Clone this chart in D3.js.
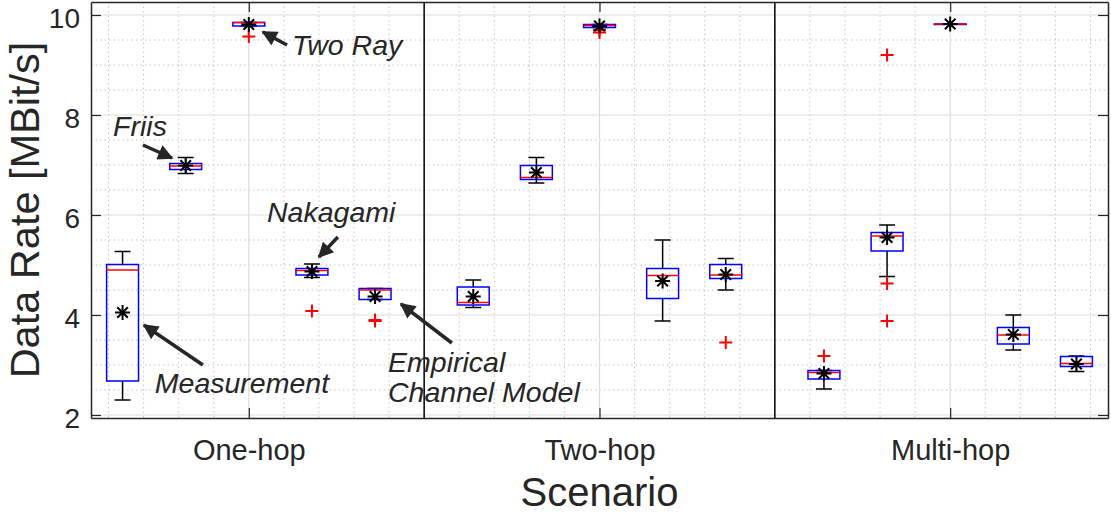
<!DOCTYPE html>
<html>
<head>
<meta charset="utf-8">
<script src="https://d3js.org/d3.v7.min.js"></script>
<style>
  body { margin: 0; background: #fff; }
  text { font-family: "Liberation Sans", Arial, Helvetica, sans-serif; fill: #262626; }
</style>
</head>
<body>
<script>

// scenarios and the five channel models inside each
let scenarios = ["One-hop", "Two-hop", "Multi-hop"];
let models = ["Measurement", "Friis", "Two Ray", "Nakagami", "Empirical Channel Model"];

// box statistics, one row per scenario, one column per model
let whiskerLow = [[2.30, 6.83, 9.78, 4.75, 4.31],
                  [4.15, 6.64, 9.75, 3.88, 4.50],
                  [2.52, 4.77, 9.82, 3.30, 2.87]];
let q1 =         [[2.68, 6.91, 9.78, 4.80, 4.31],
                  [4.20, 6.71, 9.75, 4.33, 4.73],
                  [2.72, 5.28, 9.82, 3.42, 2.97]];
let median =     [[4.90, 6.98, 9.85, 4.89, 4.50],
                  [4.25, 6.75, 9.79, 4.79, 4.80],
                  [2.85, 5.58, 9.82, 3.60, 3.03]];
let q3 =         [[5.01, 7.03, 9.85, 4.93, 4.53],
                  [4.56, 6.99, 9.81, 4.93, 5.01],
                  [2.89, 5.65, 9.82, 3.75, 3.17]];
let whiskerHigh =[[5.27, 7.15, 9.85, 5.02, 4.53],
                  [4.70, 7.15, 9.81, 5.50, 5.13],
                  [2.89, 5.80, 9.82, 4.00, 3.18]];
let means =      [[4.05, 6.99, 9.81, 4.87, 4.37],
                  [4.37, 6.85, 9.78, 4.68, 4.81],
                  [2.83, 5.55, 9.82, 3.61, 3.02]];
let outliers =   [[[], [], [9.57], [4.08], [3.90, 3.88]],
                  [[], [], [9.70, 9.65], [], [3.45]],
                  [[3.18], [9.20, 4.63, 3.88], [], [], []]];

let yTicks = [2, 4, 6, 8, 10];

// text annotations with arrows (data coordinates)
let notes = [
  {lines: ["Two Ray"], x: 1.123, y: 9.20, from: [1.109, 9.40], to: [1.040, 9.66]},
  {lines: ["Friis"], x: 0.613, y: 7.58, from: [0.698, 7.40], to: [0.781, 7.14]},
  {lines: ["Nakagami"], x: 1.052, y: 5.86, from: [1.254, 5.56], to: [1.200, 5.16]},
  {lines: ["Measurement"], x: 0.732, y: 2.44, from: [0.869, 3.00], to: [0.701, 3.80]},
  {lines: ["Empirical", "Channel Model"], x: 1.397, y: 2.86, from: [1.579, 3.44], to: [1.434, 4.22]}
];

let width = 1111, height = 515;
let pLeft = 91, pRight = 1108, pTop = 2, pBottom = 418;
let spread = 0.18, boxW = 0.091;

let svg = d3.select("body").append("svg").attr("width", width).attr("height", height);

let x = d3.scaleLinear().domain([0.55, 3.45]).range([pLeft, pRight]);
let y = d3.scaleLinear().domain([1.94, 10.26]).range([pBottom, pTop]);

// grid
let grid = svg.append("g");
grid.selectAll(".vminor").data(d3.range(6, 35).map(d => d / 10).filter(d => Math.abs(d - Math.round(d)) > 0.01))
  .enter().append("line")
  .attr("x1", d => x(d)).attr("x2", d => x(d)).attr("y1", pTop).attr("y2", pBottom)
  .attr("stroke", "#c4c4c4").attr("stroke-width", 1).attr("stroke-dasharray", "1.5,3");
grid.selectAll(".hminor").data(d3.range(4, 21).map(d => d / 2).filter(d => d % 2 != 0))
  .enter().append("line")
  .attr("x1", pLeft).attr("x2", pRight).attr("y1", d => y(d)).attr("y2", d => y(d))
  .attr("stroke", "#c4c4c4").attr("stroke-width", 1).attr("stroke-dasharray", "1.5,3");
grid.selectAll(".vmajor").data([1, 2, 3]).enter().append("line")
  .attr("x1", d => x(d)).attr("x2", d => x(d)).attr("y1", pTop).attr("y2", pBottom)
  .attr("stroke", "#dcdcdc").attr("stroke-width", 1.2);
grid.selectAll(".hmajor").data(yTicks).enter().append("line")
  .attr("x1", pLeft).attr("x2", pRight).attr("y1", d => y(d)).attr("y2", d => y(d))
  .attr("stroke", "#dcdcdc").attr("stroke-width", 1.2);

// separators between scenarios
svg.selectAll(".sep").data([1.5, 2.5]).enter().append("line")
  .attr("x1", d => x(d)).attr("x2", d => x(d)).attr("y1", pTop).attr("y2", pBottom)
  .attr("stroke", "#000").attr("stroke-width", 1.5);

// boxes
let boxes = [];
scenarios.forEach(function(s, i) {
  models.forEach(function(m, j) {
    boxes.push({pos: i + 1 + (j - 2) * spread, lo: whiskerLow[i][j], q1: q1[i][j], med: median[i][j],
      q3: q3[i][j], hi: whiskerHigh[i][j], mean: means[i][j], out: outliers[i][j]});
  });
});

let g = svg.append("g").selectAll("g").data(boxes).enter().append("g");

g.append("line").attr("x1", d => x(d.pos)).attr("x2", d => x(d.pos))
  .attr("y1", d => y(d.q3)).attr("y2", d => y(d.hi)).attr("stroke", "#000").attr("stroke-width", 1.5);
g.append("line").attr("x1", d => x(d.pos)).attr("x2", d => x(d.pos))
  .attr("y1", d => y(d.q1)).attr("y2", d => y(d.lo)).attr("stroke", "#000").attr("stroke-width", 1.5);
g.append("line").attr("x1", d => x(d.pos - boxW / 4)).attr("x2", d => x(d.pos + boxW / 4))
  .attr("y1", d => y(d.hi)).attr("y2", d => y(d.hi)).attr("stroke", "#000").attr("stroke-width", 1.5);
g.append("line").attr("x1", d => x(d.pos - boxW / 4)).attr("x2", d => x(d.pos + boxW / 4))
  .attr("y1", d => y(d.lo)).attr("y2", d => y(d.lo)).attr("stroke", "#000").attr("stroke-width", 1.5);
g.append("rect").attr("x", d => x(d.pos - boxW / 2)).attr("width", x(boxW) - x(0))
  .attr("y", d => y(d.q3)).attr("height", d => Math.max(y(d.q1) - y(d.q3), 0.5))
  .attr("fill", "none").attr("stroke", "#0000ff").attr("stroke-width", 1.5);
g.append("line").attr("x1", d => x(d.pos - boxW / 2)).attr("x2", d => x(d.pos + boxW / 2))
  .attr("y1", d => y(d.med)).attr("y2", d => y(d.med)).attr("stroke", "#ff0000").attr("stroke-width", 1.5);

// outliers as red plus signs
g.selectAll(".out").data(d => d.out.map(v => ({pos: d.pos, v: v}))).enter().append("path")
  .attr("transform", d => "translate(" + x(d.pos) + "," + y(d.v) + ")")
  .attr("d", "M0,-6.5V6.5M-6.5,0H6.5")
  .attr("stroke", "#ff0000").attr("stroke-width", 2).attr("fill", "none");

// mean markers (asterisk)
g.append("path")
  .attr("transform", d => "translate(" + x(d.pos) + "," + y(d.mean) + ")")
  .attr("d", "M0,-7.5V7.5M-7.5,0H7.5M-5.3,-5.3L5.3,5.3M-5.3,5.3L5.3,-5.3")
  .attr("stroke", "#000").attr("stroke-width", 2).attr("fill", "none");

// axes (ticks pointing inside)
let axL = svg.append("g").attr("transform", "translate(" + pLeft + ",0)")
  .call(d3.axisLeft(y).tickValues(yTicks).tickSizeInner(-10).tickSizeOuter(0).tickPadding(11));
let axR = svg.append("g").attr("transform", "translate(" + pRight + ",0)")
  .call(d3.axisRight(y).tickValues(yTicks).tickSizeInner(-10).tickSizeOuter(0).tickFormat(""));
let axB = svg.append("g").attr("transform", "translate(0," + pBottom + ")")
  .call(d3.axisBottom(x).tickValues([1, 2, 3]).tickFormat((d, i) => scenarios[i])
    .tickSizeInner(-10).tickSizeOuter(0).tickPadding(21));
let axT = svg.append("g").attr("transform", "translate(0," + pTop + ")")
  .call(d3.axisTop(x).tickValues([1, 2, 3]).tickSizeInner(-10).tickSizeOuter(0).tickFormat(""));

[axL, axR, axB, axT].forEach(function(a) {
  a.select(".domain").attr("stroke", "#262626").attr("stroke-width", 1.5);
  a.selectAll(".tick line").attr("stroke", "#262626").attr("stroke-width", 1.2);
});
axL.selectAll("text").style("font-size", "28px").attr("dy", "0.45em").attr("fill", "#262626")
  .style("font-family", "'Liberation Sans', Arial, sans-serif");
axB.selectAll("text").style("font-size", "29px").attr("dy", "0.71em").attr("fill", "#262626")
  .style("font-family", "'Liberation Sans', Arial, sans-serif");

// axis titles
svg.append("text").attr("transform", "translate(39," + ((pTop + pBottom) / 2) + ") rotate(-90)")
  .attr("text-anchor", "middle").style("font-size", "41.5px").text("Data Rate [MBit/s]");
svg.append("text").attr("x", x(2)).attr("y", 506)
  .attr("text-anchor", "middle").style("font-size", "40px").text("Scenario");

// annotations
svg.append("defs").append("marker").attr("id", "head")
  .attr("viewBox", "0 0 10 10").attr("refX", 9).attr("refY", 5)
  .attr("markerWidth", 5).attr("markerHeight", 4.4).attr("markerUnits", "strokeWidth")
  .attr("orient", "auto")
  .append("path").attr("d", "M0,0L10,5L0,10z").attr("fill", "#262626");

let ann = svg.append("g").selectAll("g").data(notes).enter().append("g");
ann.append("line")
  .attr("x1", d => x(d.from[0])).attr("y1", d => y(d.from[1]))
  .attr("x2", d => x(d.to[0])).attr("y2", d => y(d.to[1]))
  .attr("stroke", "#262626").attr("stroke-width", 3.5).attr("marker-end", "url(#head)");
ann.append("text").attr("x", d => x(d.x)).attr("y", d => y(d.y))
  .style("font-size", "28.5px").style("font-style", "italic")
  .selectAll("tspan").data(d => d.lines.map(l => ({l: l, x: d.x}))).enter().append("tspan")
  .attr("x", d => x(d.x)).attr("dy", (d, i) => i == 0 ? 0 : 30).text(d => d.l);

</script>
</body>
</html>
